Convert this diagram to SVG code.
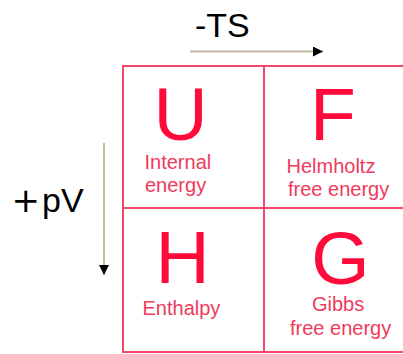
<svg xmlns="http://www.w3.org/2000/svg" width="403" height="354" viewBox="0 0 403 354">
<style>
.grid{stroke:#f4466a;stroke-width:2;fill:none}
.big{font-family:"Liberation Sans",Arial,sans-serif;font-size:75px;fill:#ff0a3a;text-anchor:middle}
.lbl{font-family:"Liberation Sans",Arial,sans-serif;font-size:20px;fill:#ee3a5c}
.axis{font-family:"Liberation Sans",Arial,sans-serif;font-size:34px;fill:#000}
.arr{stroke:#c2b8a4;stroke-width:2;fill:none}
</style>
<defs>
<marker id="ah" viewBox="0 0 10 10" refX="10" refY="5" markerWidth="18" markerHeight="10" markerUnits="userSpaceOnUse" orient="auto">
<path d="M0,0 L10,5 L0,10 Z" fill="#000"/>
</marker>
</defs>
<rect width="403" height="354" fill="#fff"/>
<g id="grid">
<line class="grid" x1="123" y1="66" x2="403" y2="66"/>
<line class="grid" x1="123" y1="208" x2="403" y2="208"/>
<line class="grid" x1="122" y1="352" x2="403" y2="352"/>
<line class="grid" x1="123" y1="65" x2="123" y2="353"/>
<line class="grid" x1="264" y1="65" x2="264" y2="353"/>
</g>
<g id="cell-U">
<text class="big" x="180.5" y="140">U</text>
<text class="lbl" x="144.5" y="169">Internal</text>
<text class="lbl" x="145" y="192">energy</text>
</g>
<g id="cell-F">
<text class="big" x="333" y="140">F</text>
<text class="lbl" x="286.5" y="173">Helmholtz</text>
<text class="lbl" x="288" y="196">free energy</text>
</g>
<g id="cell-H">
<text class="big" x="182.5" y="283">H</text>
<text class="lbl" x="142.5" y="315">Enthalpy</text>
</g>
<g id="cell-G">
<text class="big" x="340.5" y="284">G</text>
<text class="lbl" x="312" y="311">Gibbs</text>
<text class="lbl" x="290" y="335">free energy</text>
</g>
<g id="connectors">
<line class="arr" x1="190" y1="51.5" x2="323" y2="51.5" marker-end="url(#ah)"/>
<line class="arr" x1="104" y1="143" x2="104" y2="275" marker-end="url(#ah)"/>
</g>
<g id="label-TS">
<text class="axis" x="195" y="36.5">-TS</text>
</g>
<g id="label-pV">
<text class="axis" x="11.5" y="211.5"><tspan font-family="DejaVu Sans, sans-serif">+</tspan><tspan dx="2">pV</tspan></text>
</g>
</svg>
